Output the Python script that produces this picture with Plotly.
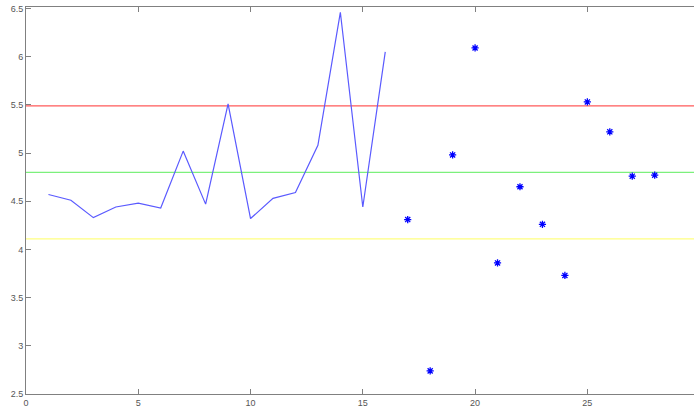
import plotly.graph_objects as go

line_x = list(range(1, 17))
line_y = [4.57, 4.51, 4.33, 4.44, 4.48, 4.43, 5.02, 4.47, 5.51, 4.32, 4.53, 4.59, 5.08, 6.46, 4.44, 6.05]

pts_x = list(range(17, 29))
pts_y = [4.31, 2.74, 4.98, 6.09, 3.86, 4.65, 4.26, 3.73, 5.53, 5.22, 4.76, 4.77]

h_levels = [5.49, 4.80, 4.11]
h_colors = ["#ff5a5a", "#7cf07c", "#ffff80"]

x_ticks = [0, 5, 10, 15, 20, 25]
y_ticks = [2.5, 3, 3.5, 4, 4.5, 5, 5.5, 6, 6.5]

x_range = [0, 29.75]
y_range = [2.5, 6.515]

fig = go.Figure()
for lvl, col in zip(h_levels, h_colors):
    fig.add_trace(go.Scatter(x=x_range, y=[lvl, lvl], mode="lines",
                             line=dict(color=col, width=1.3), hoverinfo="skip"))
fig.add_trace(go.Scatter(x=line_x, y=line_y, mode="lines",
                         line=dict(color="#5a5aff", width=1.2)))
fig.add_trace(go.Scatter(x=pts_x, y=pts_y, mode="markers",
                         marker=dict(symbol="asterisk-open", size=6, color="#0000ff",
                                     line=dict(color="#0000ff", width=1.3))))

axis_font = dict(family="Liberation Sans, Arial, sans-serif", size=9, color="#555555")
fig.update_layout(
    width=694, height=411,
    margin=dict(l=26, r=0, t=7, b=17),
    paper_bgcolor="white", plot_bgcolor="white",
    showlegend=False,
    xaxis=dict(range=x_range, tickvals=x_ticks, ticktext=[str(v) for v in x_ticks],
               showgrid=False, zeroline=False, showline=True, linecolor="#808080",
               linewidth=1, mirror="ticks", ticks="inside", ticklen=5,
               tickcolor="#808080", tickfont=axis_font, automargin=False,
               ticklabelstandoff=0),
    yaxis=dict(range=y_range, tickvals=y_ticks, ticktext=[str(v) for v in y_ticks],
               showgrid=False, zeroline=False, showline=True, linecolor="#808080",
               linewidth=1, ticks="inside", ticklen=5,
               tickcolor="#808080", tickfont=axis_font, automargin=False),
)
fig.write_html("out.html", config={"displayModeBar": False},
               post_script="document.body.style.margin='0';document.body.style.overflow='hidden';")
